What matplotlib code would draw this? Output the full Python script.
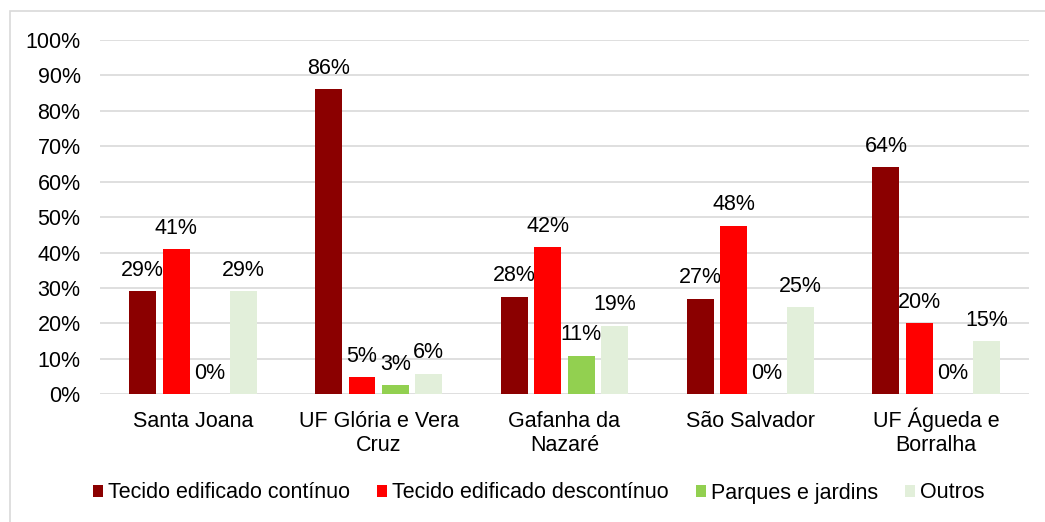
import numpy as np
import matplotlib
matplotlib.use("Agg")
import matplotlib.pyplot as plt
from matplotlib.patches import Rectangle

plt.rcParams["font.family"] = ["Liberation Sans", "DejaVu Sans"]

categories = ["Santa Joana", "UF Glória e Vera\nCruz", "Gafanha da\nNazaré",
              "São Salvador", "UF Águeda e\nBorralha"]
series = ["Tecido edificado contínuo", "Tecido edificado descontínuo",
          "Parques e jardins", "Outros"]
continuo = [29.2, 86.1, 27.6, 27.0, 64.2]
descontinuo = [41.0, 4.9, 41.6, 47.6, 20.1]
parques = [0.0, 2.6, 10.9, 0.0, 0.0]
outros = [29.2, 5.8, 19.4, 24.7, 15.0]
colors = ["#8B0000", "#FF0000", "#92D050", "#E2EFDA"]

fs = 15.5

fig = plt.figure(figsize=(10.45, 5.22), dpi=100)
ax = fig.add_axes([100/1045, 127.7/522, 929/1045, 354.3/522])

# light grey chart border (right / bottom edges fall outside the image)
fig.patches.append(Rectangle((9.5/1045, -0.2), 1.5, 1 - 10.7/522 + 0.2,
                             transform=fig.transFigure, fill=False,
                             edgecolor="#D9D9D9", linewidth=1.2))

x = np.arange(len(categories))
step = 0.18
width = 0.145
data = [continuo, descontinuo, parques, outros]
for i, (vals, c, name) in enumerate(zip(data, colors, series)):
    pos = x + (i - 1.5) * step
    ax.bar(pos, vals, width, color=c, label=name, zorder=3)
    for p, v in zip(pos, vals):
        ax.annotate("%d%%" % round(v), (p, v), xytext=(0, 11),
                    textcoords="offset points", ha="center", va="baseline",
                    fontsize=fs, color="#000000")

ax.set_xlim(-0.5, len(categories) - 0.5)
ax.set_ylim(0, 100)
ax.set_yticks(np.arange(0, 101, 10))
ax.set_yticklabels(["%d%%" % t for t in range(0, 101, 10)])
ax.set_xticks([])

# category names, every line on a common baseline (accents don't shift it)
for xi, cat in zip(x, categories):
    for k, line in enumerate(cat.split("\n")):
        ax.annotate(line, (xi, 0), xytext=(0, -23.5 - k * 17.5),
                    textcoords="offset points",
                    xycoords=("data", "axes fraction"), ha="center",
                    va="baseline", fontsize=fs, color="#000000")

ax.tick_params(axis="both", length=0, labelsize=fs, colors="#000000")
ax.tick_params(axis="y", pad=14)
ax.grid(axis="y", color="#D9D9D9", linewidth=1.2, zorder=0)
ax.set_axisbelow(True)
for s in ax.spines.values():
    s.set_visible(False)

fig.legend(loc="center", bbox_to_anchor=(539/1045, 29/522), ncol=4,
           frameon=False, fontsize=fs, handlelength=0.45,
           handleheight=0.45, handletextpad=0.25, columnspacing=1.25)

fig.savefig("out.png", dpi=100)
